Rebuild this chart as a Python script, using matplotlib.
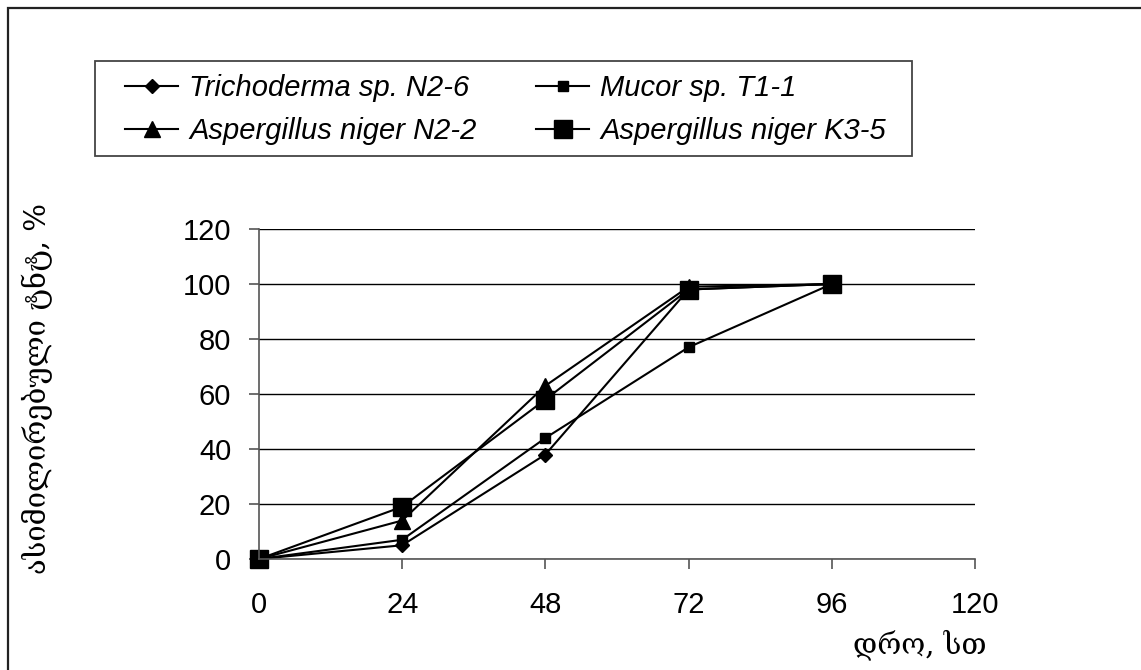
import matplotlib.pyplot as plt
from matplotlib.patches import Rectangle

hours = [0, 24, 48, 72, 96]
trichoderma = [0, 5, 38, 98, 100]
mucor = [0, 7, 44, 77, 100]
niger_n22 = [0, 14, 63, 99, 100]
niger_k35 = [0, 19, 58, 98, 100]

labels = ["Trichoderma sp. N2-6", "Mucor sp. T1-1",
          "Aspergillus niger N2-2", "Aspergillus niger K3-5"]
ylabel = "ასიმილირებული ტნტ, %"
xlabel = "დრო, სთ"

plt.rcParams['font.family'] = ['Liberation Sans', 'DejaVu Sans']
geo_font = ['DejaVu Serif', 'DejaVu Sans']

fig = plt.figure(figsize=(11.41, 6.7), dpi=100)
W, H = 1141, 670
# outer frame of the chart area (cut at right/bottom edges)
fig.patches.append(Rectangle((8 / W, -0.1), 1.2, 1.1 - 8 / H, transform=fig.transFigure,
                             fill=False, edgecolor='#222222', linewidth=1.6))
# legend frame
fig.patches.append(Rectangle((95 / W, 1 - 156 / H), (912 - 95) / W, 95 / H,
                             transform=fig.transFigure, fill=False,
                             edgecolor='#444444', linewidth=1.3))

ax = fig.add_axes([259 / W, 1 - 559 / H, (975 - 259) / W, (559 - 229) / H])

l1, = ax.plot(hours, trichoderma, color='black', lw=1.5, marker='D', ms=7, clip_on=False)
l2, = ax.plot(hours, mucor, color='black', lw=1.5, marker='s', ms=7, clip_on=False)
l3, = ax.plot(hours, niger_n22, color='black', lw=1.5, marker='^', ms=11, clip_on=False)
l4, = ax.plot(hours, niger_k35, color='black', lw=1.5, marker='s', ms=13, clip_on=False)

ax.set_xlim(0, 120)
ax.set_ylim(0, 120)
ax.set_xticks(range(0, 121, 24))
ax.set_yticks(range(0, 121, 20))
ax.yaxis.grid(True, color='black', lw=1.0)
ax.set_axisbelow(True)
for s in ['top', 'right']:
    ax.spines[s].set_visible(False)
for s in ['left', 'bottom']:
    ax.spines[s].set_color('#555555')
    ax.spines[s].set_linewidth(1.2)
ax.tick_params(axis='both', labelsize=21, length=7, width=1.2, color='#555555')
ax.tick_params(axis='x', pad=16)
ax.tick_params(axis='y', pad=13)

fig.text(37 / W, 1 - 388 / H, ylabel, fontsize=21, family=geo_font,
         rotation=90, ha='center', va='center')
fig.text(920 / W, 1 - 645 / H, xlabel, fontsize=21, family=geo_font,
         ha='center', va='center')

leg = fig.legend([l1, l3, l2, l4], [labels[0], labels[2], labels[1], labels[3]],
                 ncol=2, loc='upper left', bbox_to_anchor=(125 / W, 1 - 74 / H),
                 prop={'style': 'italic', 'size': 21}, frameon=False,
                 handlelength=1.82, handletextpad=0.38, columnspacing=2.05,
                 borderpad=0, borderaxespad=0, labelspacing=0.52)

fig.savefig("out.png", dpi=100)
